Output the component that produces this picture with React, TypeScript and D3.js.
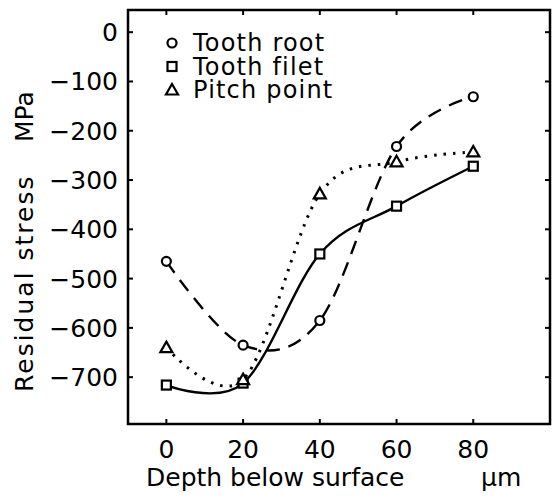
import { useEffect, useRef } from 'react';
import * as d3 from 'd3';

const depths = [0, 20, 40, 60, 80];
const toothRoot = [-465, -635, -585, -232, -131];
const toothFilet = [-716, -712, -450, -353, -272];
const pitchPoint = [-640, -705, -328, -263, -243];
const xTicks = [0, 20, 40, 60, 80];
const yTicks = [0, -100, -200, -300, -400, -500, -600, -700];
const legendLabels = ['Tooth root', 'Tooth filet', 'Pitch point'];

const App = () => {
  const ref = useRef<SVGSVGElement>(null);

  useEffect(() => {
    const width = 552;
    const height = 497;
    const left = 128, right = 550, top = 10, bottom = 424;
    const font = '"DejaVu Sans", sans-serif';

    const svg = d3.select(ref.current);
    svg.selectAll('*').remove();
    svg.attr('width', width).attr('height', height);

    const x = d3.scaleLinear().domain([-10, 100]).range([left, right]);
    const y = d3.scaleLinear().domain([-795, 45]).range([bottom, top]);

    // frame
    svg.append('rect')
      .attr('x', left).attr('y', top)
      .attr('width', right - left).attr('height', bottom - top)
      .attr('fill', 'none').attr('stroke', '#000').attr('stroke-width', 2.5);

    // inward ticks on all four sides
    const tl = 5;
    xTicks.forEach(t => {
      svg.append('line').attr('x1', x(t)).attr('x2', x(t)).attr('y1', bottom).attr('y2', bottom - tl)
        .attr('stroke', '#000').attr('stroke-width', 2);
      svg.append('line').attr('x1', x(t)).attr('x2', x(t)).attr('y1', top).attr('y2', top + tl)
        .attr('stroke', '#000').attr('stroke-width', 2);
      svg.append('text').attr('x', x(t)).attr('y', 458)
        .attr('text-anchor', 'middle').attr('font-family', font).attr('font-size', 25)
        .text(String(t));
    });
    yTicks.forEach(t => {
      svg.append('line').attr('x1', left).attr('x2', left + tl).attr('y1', y(t)).attr('y2', y(t))
        .attr('stroke', '#000').attr('stroke-width', 2);
      svg.append('line').attr('x1', right).attr('x2', right - tl).attr('y1', y(t)).attr('y2', y(t))
        .attr('stroke', '#000').attr('stroke-width', 2);
      svg.append('text').attr('x', 118).attr('y', y(t) + 9)
        .attr('text-anchor', 'end').attr('font-family', font).attr('font-size', 25)
        .text(t === 0 ? '0' : '\u2212' + Math.abs(t));
    });

    // axis titles
    svg.append('text').attr('transform', 'translate(33,392) rotate(-90)')
      .attr('font-family', font).attr('font-size', 25).attr('letter-spacing', 2)
      .text('Residual stress');
    svg.append('text').attr('transform', 'translate(33,142) rotate(-90)')
      .attr('font-family', font).attr('font-size', 25).text('MPa');
    svg.append('text').attr('x', 146).attr('y', 486)
      .attr('font-family', font).attr('font-size', 25).text('Depth below surface');
    svg.append('text').attr('x', 481).attr('y', 486)
      .attr('font-family', font).attr('font-size', 25).text('\u00b5m');

    const line = d3.line<number>()
      .x((_, i) => x(depths[i]))
      .y(d => y(d))
      .curve(d3.curveCardinal.tension(0));

    const series = [
      { values: toothRoot, dash: '14,9', shape: 'circle' },
      { values: toothFilet, dash: null, shape: 'square' },
      { values: pitchPoint, dash: '2.5,7', shape: 'triangle' },
    ];

    series.forEach(s => {
      const p = svg.append('path').attr('d', line(s.values))
        .attr('fill', 'none').attr('stroke', '#000').attr('stroke-width', 2.4);
      if (s.dash) p.attr('stroke-dasharray', s.dash);
      if (s.shape === 'triangle') p.attr('stroke-width', 3);
    });

    const drawMarker = (shape: string, cx: number, cy: number) => {
      if (shape === 'circle') {
        svg.append('circle').attr('cx', cx).attr('cy', cy).attr('r', 4.5)
          .attr('fill', '#fff').attr('stroke', '#000').attr('stroke-width', 2.2);
      } else if (shape === 'square') {
        svg.append('rect').attr('x', cx - 4.5).attr('y', cy - 4.5).attr('width', 9).attr('height', 9)
          .attr('fill', '#fff').attr('stroke', '#000').attr('stroke-width', 2.2);
      } else {
        svg.append('path').attr('d', `M${cx},${cy - 6}L${cx + 6},${cy + 4.5}L${cx - 6},${cy + 4.5}Z`)
          .attr('fill', '#fff').attr('stroke', '#000').attr('stroke-width', 2.2);
      }
    };

    series.forEach(s => {
      s.values.forEach((v, i) => drawMarker(s.shape, x(depths[i]), y(v)));
    });

    // legend
    legendLabels.forEach((lab, i) => {
      const ly = 43 + i * 23.5;
      drawMarker(series[i].shape, 172, ly);
      svg.append('text').attr('x', 193).attr('y', ly + 8)
        .attr('font-family', font).attr('font-size', 24).attr('letter-spacing', 1.2)
        .text(lab);
    });
  }, []);

  return <svg ref={ref} style={{ position: 'absolute', left: 0, top: 0, display: 'block' }} />;
};

export default App;
